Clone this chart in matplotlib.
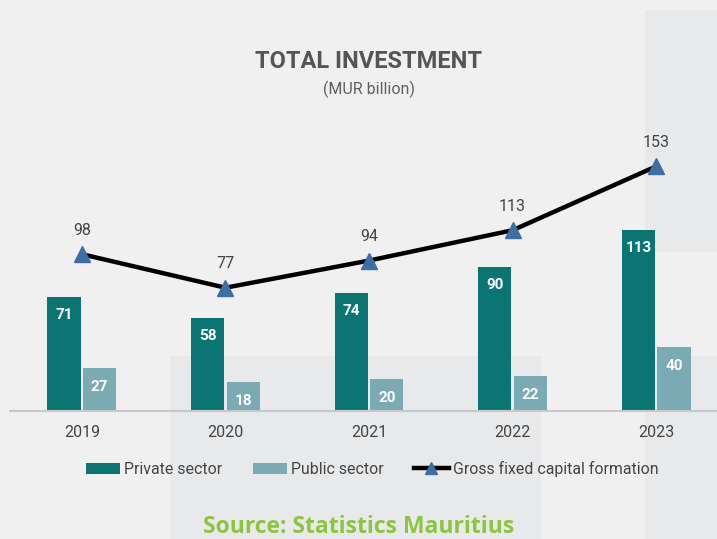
import matplotlib.pyplot as plt
import matplotlib.patches as mpatches
import numpy as np

years = ["2019", "2020", "2021", "2022", "2023"]
private = [71, 58, 74, 90, 113]
public = [27, 18, 20, 22, 40]
gfcf = [98, 77, 94, 113, 153]

PRIV_C = "#0b7574"
PUB_C = "#7aaab4"
MARK_C = "#3c6fa5"
BG = "#f0f0f0"

W, H = 717, 539
fig = plt.figure(figsize=(W / 100, H / 100), dpi=100)
fig.patch.set_facecolor(BG)

# background decorative panels (behind the chart)
for (x0, y0, x1, y1) in [(645, 10, 717, 252), (170, 356, 541, 539), (645, 356, 717, 539)]:
    fig.patches.append(mpatches.Rectangle((x0 / W, 1 - y1 / H), (x1 - x0) / W, (y1 - y0) / H,
                                          transform=fig.transFigure, facecolor="#e8e9eb",
                                          edgecolor="none", zorder=-5))

# axes: baseline at y=410.7px, 1.597 px per unit, 143.6 px per category
base_px = 410.7
top_px = 130
ax = fig.add_axes([10 / W, 1 - base_px / H, (W - 10) / W, (base_px - top_px) / H])
ax.set_facecolor("none")
ax.set_xlim(-0.5, (W - 10) / 143.6 - 0.5)
ax.set_ylim(0, (base_px - top_px) / 1.597)

x = np.arange(len(years))
bw = 0.232
off = 0.124
b1 = ax.bar(x - off, private, bw, color=PRIV_C, label="Private sector", zorder=2)
b2 = ax.bar(x + off, public, bw, color=PUB_C, label="Public sector", zorder=2)
ln, = ax.plot(x, gfcf, color="black", lw=3.2, marker="^", markersize=11,
              markerfacecolor=MARK_C, markeredgecolor=MARK_C, zorder=3,
              label="Gross fixed capital formation")

for xi, v in zip(x, private):
    ax.annotate(str(v), (xi - off, v), xytext=(0, -18), textcoords="offset pixels",
                ha="center", va="center", color="white", fontsize=11, fontweight="bold",
                family="Roboto", zorder=4)
for xi, v in zip(x, public):
    ax.annotate(str(v), (xi + off, v), xytext=(0, -19), textcoords="offset pixels",
                ha="center", va="center", color="white", fontsize=11, fontweight="bold",
                family="Roboto", zorder=4)
for xi, v in zip(x, gfcf):
    ax.annotate(str(v), (xi, v), xytext=(0, 24), textcoords="offset pixels",
                ha="center", va="center", color="#444444", fontsize=11.5,
                family="Roboto", zorder=4)

for s in ["top", "right", "left"]:
    ax.spines[s].set_visible(False)
ax.spines["bottom"].set_color("#c8c8c8")
ax.spines["bottom"].set_linewidth(1.5)
ax.set_yticks([])
ax.set_xticks(x)
ax.set_xticklabels(years, fontsize=11.5, color="#444444", family="Roboto")
ax.tick_params(axis="x", length=0, pad=10)

fig.text(369 / W, 1 - 62 / H, "TOTAL INVESTMENT", ha="center", va="center",
         fontsize=17, fontweight="bold", color="#555555", family="Roboto")
fig.text(369 / W, 1 - 89 / H, "(MUR billion)", ha="center", va="center",
         fontsize=11.5, color="#606060", family="Roboto")

leg = fig.legend(handles=[b1, b2, ln], loc="center", bbox_to_anchor=(372 / W, 1 - 469 / H),
                 ncol=3, frameon=False, prop={"family": "Roboto", "size": 11.4},
                 handlelength=2.2, handleheight=0.7, columnspacing=1.9, handletextpad=0.25,
                 markerscale=0.75)
for t in leg.get_texts():
    t.set_color("#444444")

fig.text(359 / W, 1 - 527 / H, "Source: Statistics Mauritius", ha="center", va="center",
         fontsize=16.5, fontweight="bold", color="#8cc63f", family="Open Sans")

fig.savefig("out.png", dpi=100, facecolor=BG)
